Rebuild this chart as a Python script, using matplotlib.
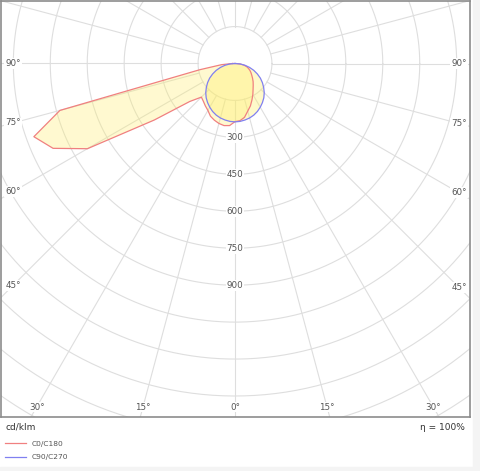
import matplotlib
matplotlib.use("Agg")
import matplotlib.pyplot as plt
import numpy as np
from matplotlib.patches import Rectangle

# gamma angles (deg from nadir) and intensities in cd/klm
angles = np.arange(0, 95, 5)
c180 = [236, 253, 256, 252, 245, 236, 220, 210, 200, 193,
        240, 400, 692, 815, 869, 736, 145, 55, 10]
c0 = [236, 233, 222, 200, 183, 163, 145, 128, 115, 104,
      93, 83, 75, 67, 58, 49, 36, 20, 3]
c90_270 = [237, 236, 233, 229, 223, 215, 205, 194, 182, 168,
           152, 136, 119, 100, 81, 61, 41, 21, 0]

ring_values = [150, 300, 450, 600, 750, 900, 1050, 1200, 1350, 1500, 1650, 1800]
ring_labels = [300, 450, 600, 750, 900]
side_labels = [45, 60, 75, 90]
bottom_labels = [0, 15, 30]

W, H = 480, 471
scale = 0.2463          # px per cd/klm
cx, cy = 235, 63.5      # polar centre in px
fl, fr, ft, fb = 1, 470, 1, 417   # frame in px

fig = plt.figure(figsize=(W / 100, H / 100), dpi=100)
fig.patches.append(Rectangle((473 / W, 0), 1, 1, transform=fig.transFigure,
                             color='#f4f4f4', zorder=0))
fig.patches.append(Rectangle((0, 0), 1, (H - 467) / H, transform=fig.transFigure,
                             color='#f4f4f4', zorder=0))

ax = fig.add_axes([fl / W, 1 - fb / H, (fr - fl) / W, (fb - ft) / H])
xmin, xmax = -(cx - fl) / scale, (fr - cx) / scale
ymin, ymax = -(fb - cy) / scale, (cy - ft) / scale
ax.set_xlim(xmin, xmax)
ax.set_ylim(ymin, ymax)
ax.set_xticks([])
ax.set_yticks([])
for sp in ax.spines.values():
    sp.set_color('#8c8c8c')
    sp.set_linewidth(1.2)

grid_col = '#dedede'
t = np.linspace(0, 2 * np.pi, 400)
for r in ring_values:
    ax.plot(r * np.cos(t), r * np.sin(t), color=grid_col, lw=0.8, zorder=1)
for a in np.arange(0, 360, 15):
    ar = np.radians(a)
    ax.plot([150 * np.sin(ar), 2200 * np.sin(ar)],
            [-150 * np.cos(ar), -2200 * np.cos(ar)],
            color=grid_col, lw=0.8, zorder=1)

rad = np.radians(angles)
# C0/C180: left side is C180, right side is C0
x_red = np.concatenate([-np.array(c180)[::-1] * np.sin(rad[::-1]),
                        np.array(c0) * np.sin(rad)])
y_red = np.concatenate([-np.array(c180)[::-1] * np.cos(rad[::-1]),
                        -np.array(c0) * np.cos(rad)])
b = np.array(c90_270)
x_blue = np.concatenate([-b[::-1] * np.sin(rad[::-1]), b * np.sin(rad)])
y_blue = np.concatenate([-b[::-1] * np.cos(rad[::-1]), -b * np.cos(rad)])

ax.fill(x_red, y_red, color='#ffee66', alpha=0.3, lw=0, zorder=2)
ax.fill(x_blue, y_blue, color='#ffee66', alpha=0.35, lw=0, zorder=2)
l1, = ax.plot(np.append(x_red, x_red[0]), np.append(y_red, y_red[0]),
              color='#f08080', lw=0.9, zorder=3, label='C0/C180')
l2, = ax.plot(np.append(x_blue, x_blue[0]), np.append(y_blue, y_blue[0]),
              color='#8080f0', lw=0.9, zorder=3, label='C90/C270')

lab = dict(fontsize=6.3, color='#555555', ha='center', va='center', zorder=4,
           bbox=dict(boxstyle='square,pad=0.1', fc='white', ec='none'))
for v in ring_labels:
    ax.text(0, -v, str(v), **lab)

xl = xmin + 12 / scale
xr = xmax - 11 / scale
for a in side_labels:
    ar = np.radians(a)
    ax.text(xl, xl / np.tan(ar) if a != 90 else 0, f'{a}°', **lab)
    ax.text(xr, -xr / np.tan(ar) if a != 90 else 0, f'{a}°', **lab)
yb = ymin + 10 / scale
for a in bottom_labels:
    ar = np.radians(a)
    ax.text(yb * np.tan(ar), yb, f'{a}°', **lab)
    if a:
        ax.text(-yb * np.tan(ar), yb, f'{a}°', **lab)

fig.text(5 / W, 1 - 427 / H, 'cd/klm', fontsize=6.5, color='#333333',
         ha='left', va='center')
fig.text(465 / W, 1 - 427 / H, 'η = 100%', fontsize=6.5, color='#333333',
         ha='right', va='center')
fig.legend(handles=[l1, l2], loc='upper left', bbox_to_anchor=(0, 1 - 436 / H),
           frameon=False, fontsize=5.4, handlelength=2.9, handletextpad=0.7,
           labelspacing=1.0, borderaxespad=0.2, labelcolor='#555555')

fig.savefig('out.png', dpi=100, facecolor='white')
